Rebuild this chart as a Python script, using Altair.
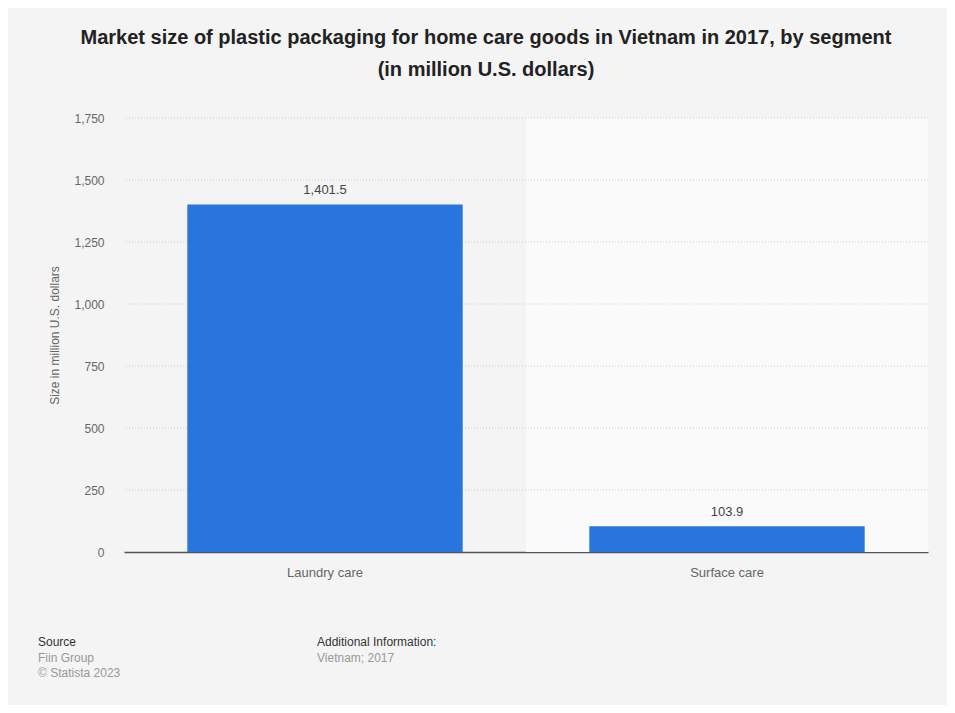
import altair as alt
import pandas as pd

categories = ["Laundry care", "Surface care"]
values = [1401.5, 103.9]
value_labels = ["1,401.5", "103.9"]
highlight_category = ["Surface care"]
y_ticks = [0, 250, 500, 750, 1000, 1250, 1500, 1750]
y_max = 1750

df = pd.DataFrame({"segment": categories, "value": values, "label": value_labels})
hl = pd.DataFrame({"segment": highlight_category, "top": [y_max]})
grid_df = pd.DataFrame({"v": y_ticks[1:]})

W, H = 804, 434

x_enc = alt.X("segment:N", sort=categories,
              scale=alt.Scale(paddingInner=0, paddingOuter=0),
              axis=alt.Axis(title=None, labelAngle=0, labelFontSize=13, labelColor="#666666",
                            labelFont="Liberation Sans", labelPadding=14, ticks=False,
                            domain=True, domainColor="#555555", domainWidth=1.5, grid=False))
y_scale = alt.Scale(domain=[0, y_max], nice=False)

highlight = alt.Chart(hl).mark_bar(color="#fafafa", width=alt.RelativeBandSize(1)).encode(
    x=x_enc,
    y=alt.Y("top:Q", scale=y_scale,
            axis=alt.Axis(title="Size in million U.S. dollars", values=y_ticks,
                          format=",d", labelFontSize=12, labelColor="#666666", labelFont="Liberation Sans",
                          labelPadding=20, ticks=False, domain=False, grid=False,
                          titleFontSize=12, titleColor="#666666", titleFont="Liberation Sans",
                          titleFontWeight="normal", titlePadding=12)),
)

grid = alt.Chart(grid_df).mark_rule(color="#cccccc", strokeDash=[1, 2], strokeWidth=1).encode(
    y=alt.Y("v:Q", scale=y_scale),
)

bars = alt.Chart(df).mark_bar(color="#2876dd", width=alt.RelativeBandSize(0.685)).encode(
    x=alt.X("segment:N", sort=categories),
    y=alt.Y("value:Q", scale=y_scale),
)

labels = alt.Chart(df).mark_text(dy=-14, fontSize=13, color="#444444", font="Liberation Sans").encode(
    x=alt.X("segment:N", sort=categories),
    y=alt.Y("value:Q", scale=y_scale),
    text="label:N",
)

footer_text = [
    ("Source", -86, 524, "#333333"),
    ("Fiin Group", -86, 540, "#999999"),
    ("\u00a9 Statista 2023", -86, 555, "#999999"),
    ("Additional Information:", 193, 524, "#333333"),
    ("Vietnam; 2017", 193, 540, "#999999"),
]
footers = []
for txt, fx, fy, col in footer_text:
    footers.append(
        alt.Chart(pd.DataFrame({"t": [txt]})).mark_text(
            align="left", baseline="middle", fontSize=12, color=col, font="Liberation Sans"
        ).encode(x=alt.value(fx), y=alt.value(fy), text="t:N")
    )

chart = alt.layer(highlight, grid, bars, labels, *footers).properties(
    width=W, height=H,
    background="#f4f4f4",
    autosize=alt.AutoSizeParams(type="none"),
    padding={"left": 116, "top": 110, "right": 19, "bottom": 153},
    title=alt.TitleParams(
        text=["Market size of plastic packaging for home care goods in Vietnam in 2017, by segment",
              "(in million U.S. dollars)"],
        anchor="middle", fontSize=20, font="Liberation Sans", fontWeight="bold", color="#222222",
        lineHeight=32, dx=-40, offset=22, baseline="middle",
    ),
).configure_view(stroke=None)

chart.save("out.html", embed_options={"renderer": "svg", "actions": False})
